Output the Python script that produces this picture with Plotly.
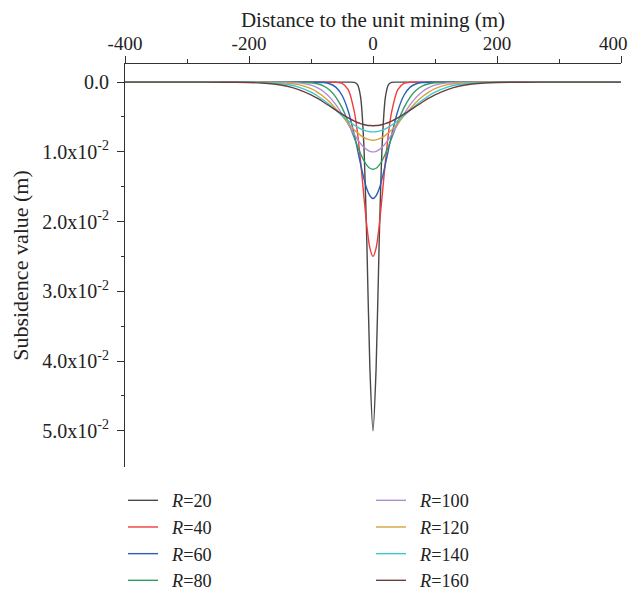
import plotly.graph_objects as go

# Half-profile distances (m); curves are symmetric about x = 0
x_half = [0, 5, 10, 15, 20, 25, 30, 40, 50, 60, 70, 80, 90, 100, 120, 140, 160, 180, 200, 240, 280, 400]

# Subsidence values (m) read at x_half for each R
r_values = [20, 40, 60, 80, 100, 120, 140, 160]
sub_R20 = [0.0500, 0.0411, 0.0228, 0.00855, 0.00216, 0.00037, 0.00004, 0, 0, 0, 0, 0, 0, 0, 0, 0, 0, 0, 0, 0, 0, 0]
sub_R40 = [0.0250, 0.0238, 0.0206, 0.0161, 0.0114, 0.0073, 0.0043, 0.00108, 0.00018, 0.00002, 0, 0, 0, 0, 0, 0, 0, 0, 0, 0, 0, 0]
sub_R60 = [0.0167, 0.0163, 0.0153, 0.0137, 0.01175, 0.00967, 0.0076, 0.00413, 0.00188, 0.00072, 0.00023, 0.00006, 0.00001, 0, 0, 0, 0, 0, 0, 0, 0, 0]
sub_R80 = [0.0125, 0.01235, 0.0119, 0.0112, 0.01028, 0.0092, 0.00804, 0.0057, 0.00366, 0.00214, 0.00113, 0.00054, 0.000235, 0.000092, 0.00001, 0, 0, 0, 0, 0, 0, 0]
sub_R100 = [0.0100, 0.00992, 0.00969, 0.00932, 0.00882, 0.00822, 0.00754, 0.00605, 0.00456, 0.00323, 0.00215, 0.00134, 0.00079, 0.00043, 0.00011, 0.00002, 0, 0, 0, 0, 0, 0]
sub_R120 = [0.00833, 0.00829, 0.00815, 0.00793, 0.00763, 0.00727, 0.00685, 0.00588, 0.00483, 0.0038, 0.00286, 0.00206, 0.00143, 0.00094, 0.00036, 0.000116, 0.00003, 0.00001, 0, 0, 0, 0]
sub_R140 = [0.00714, 0.00711, 0.00703, 0.00689, 0.0067, 0.00646, 0.00618, 0.00553, 0.00479, 0.00401, 0.00326, 0.00256, 0.00195, 0.00144, 0.00071, 0.00031, 0.00012, 0.00004, 0.00001, 0, 0, 0]
sub_R160 = [0.00625, 0.00623, 0.00618, 0.00608, 0.00595, 0.00579, 0.00559, 0.00514, 0.0046, 0.00402, 0.00343, 0.00285, 0.00231, 0.00183, 0.00107, 0.00056, 0.00027, 0.00012, 0.00005, 0.00001, 0, 0]
series = [sub_R20, sub_R40, sub_R60, sub_R80, sub_R100, sub_R120, sub_R140, sub_R160]

colors = ["#484848", "#f03c3c", "#2c5fb8", "#2e9e62", "#b08cd0", "#d6a23c", "#3cc8cc", "#6e3c3c"]

x_ticks = [-400, -200, 0, 200, 400]
x_ticktext = ["-400", "-200", "0", "200", ""]   # last label drawn as annotation (edge)
y_ticks = [0.0, 0.01, 0.02, 0.03, 0.04, 0.05]
y_ticktext = ["0.0", "1.0x10<sup>-2</sup>", "2.0x10<sup>-2</sup>", "3.0x10<sup>-2</sup>",
              "4.0x10<sup>-2</sup>", "5.0x10<sup>-2</sup>"]

FONT = "Liberation Serif"
FS = 19

# the page body has an 8px margin; the figure is sized/shifted to compensate
fig = go.Figure()
for i, (r, ys) in enumerate(zip(r_values, series)):
    xs = [-v for v in reversed(x_half[1:])] + x_half
    yy = list(reversed(ys[1:])) + ys
    fig.add_trace(go.Scatter(
        x=xs, y=yy, mode="lines",
        line=dict(color=colors[i], width=1.4, shape="spline", smoothing=0.8),
        name=f"\u00a0\u00a0<i>R</i>={r}",
        legend="legend" if i < 4 else "legend2",
    ))

leg_common = dict(
    yref="container", y=1 - (482 - 8) / 589, xanchor="left", yanchor="top",
    orientation="v", font=dict(size=18.2),
    bgcolor="rgba(0,0,0,0)", itemwidth=30,
)

fig.add_annotation(
    text="400", xref="paper", yref="paper", x=1, y=1,
    xanchor="right", yanchor="bottom", xshift=9, yshift=8,
    showarrow=False, font=dict(size=FS),
)

fig.update_layout(
    width=630, height=589,
    margin=dict(l=117, r=17, t=56, b=130),
    plot_bgcolor="white", paper_bgcolor="white",
    font=dict(family=FONT, size=FS, color="#222"),
    xaxis=dict(
        side="top", range=[-400, 400], tickvals=x_ticks, ticktext=x_ticktext,
        showgrid=False, zeroline=False, automargin=False,
        showline=True, linecolor="#333", linewidth=1,
        ticks="outside", ticklen=7, tickcolor="#333", ticklabelstandoff=-2,
        minor=dict(tickvals=[-300, -100, 100, 300], ticks="outside", ticklen=4, tickcolor="#333"),
        title=dict(text="Distance to the unit mining (m)", standoff=12, font=dict(size=21)),
        tickfont=dict(size=FS),
    ),
    yaxis=dict(
        range=[0.0552, -0.0026], tickvals=y_ticks, ticktext=y_ticktext,
        showgrid=False, zeroline=False, automargin=False,
        showline=True, linecolor="#333", linewidth=1,
        ticks="outside", ticklen=7, tickcolor="#333", ticklabelstandoff=4,
        minor=dict(tickvals=[0.005, 0.015, 0.025, 0.035, 0.045], ticks="outside", ticklen=3, tickcolor="#333"),
        title=dict(text="Subsidence value (m)", standoff=17, font=dict(size=22)),
        tickfont=dict(size=20),
    ),
    legend=dict(x=(123 - 125) / 496, **leg_common),
    legend2=dict(x=(371 - 125) / 496, **leg_common),
)

fig.write_html("out.html")
